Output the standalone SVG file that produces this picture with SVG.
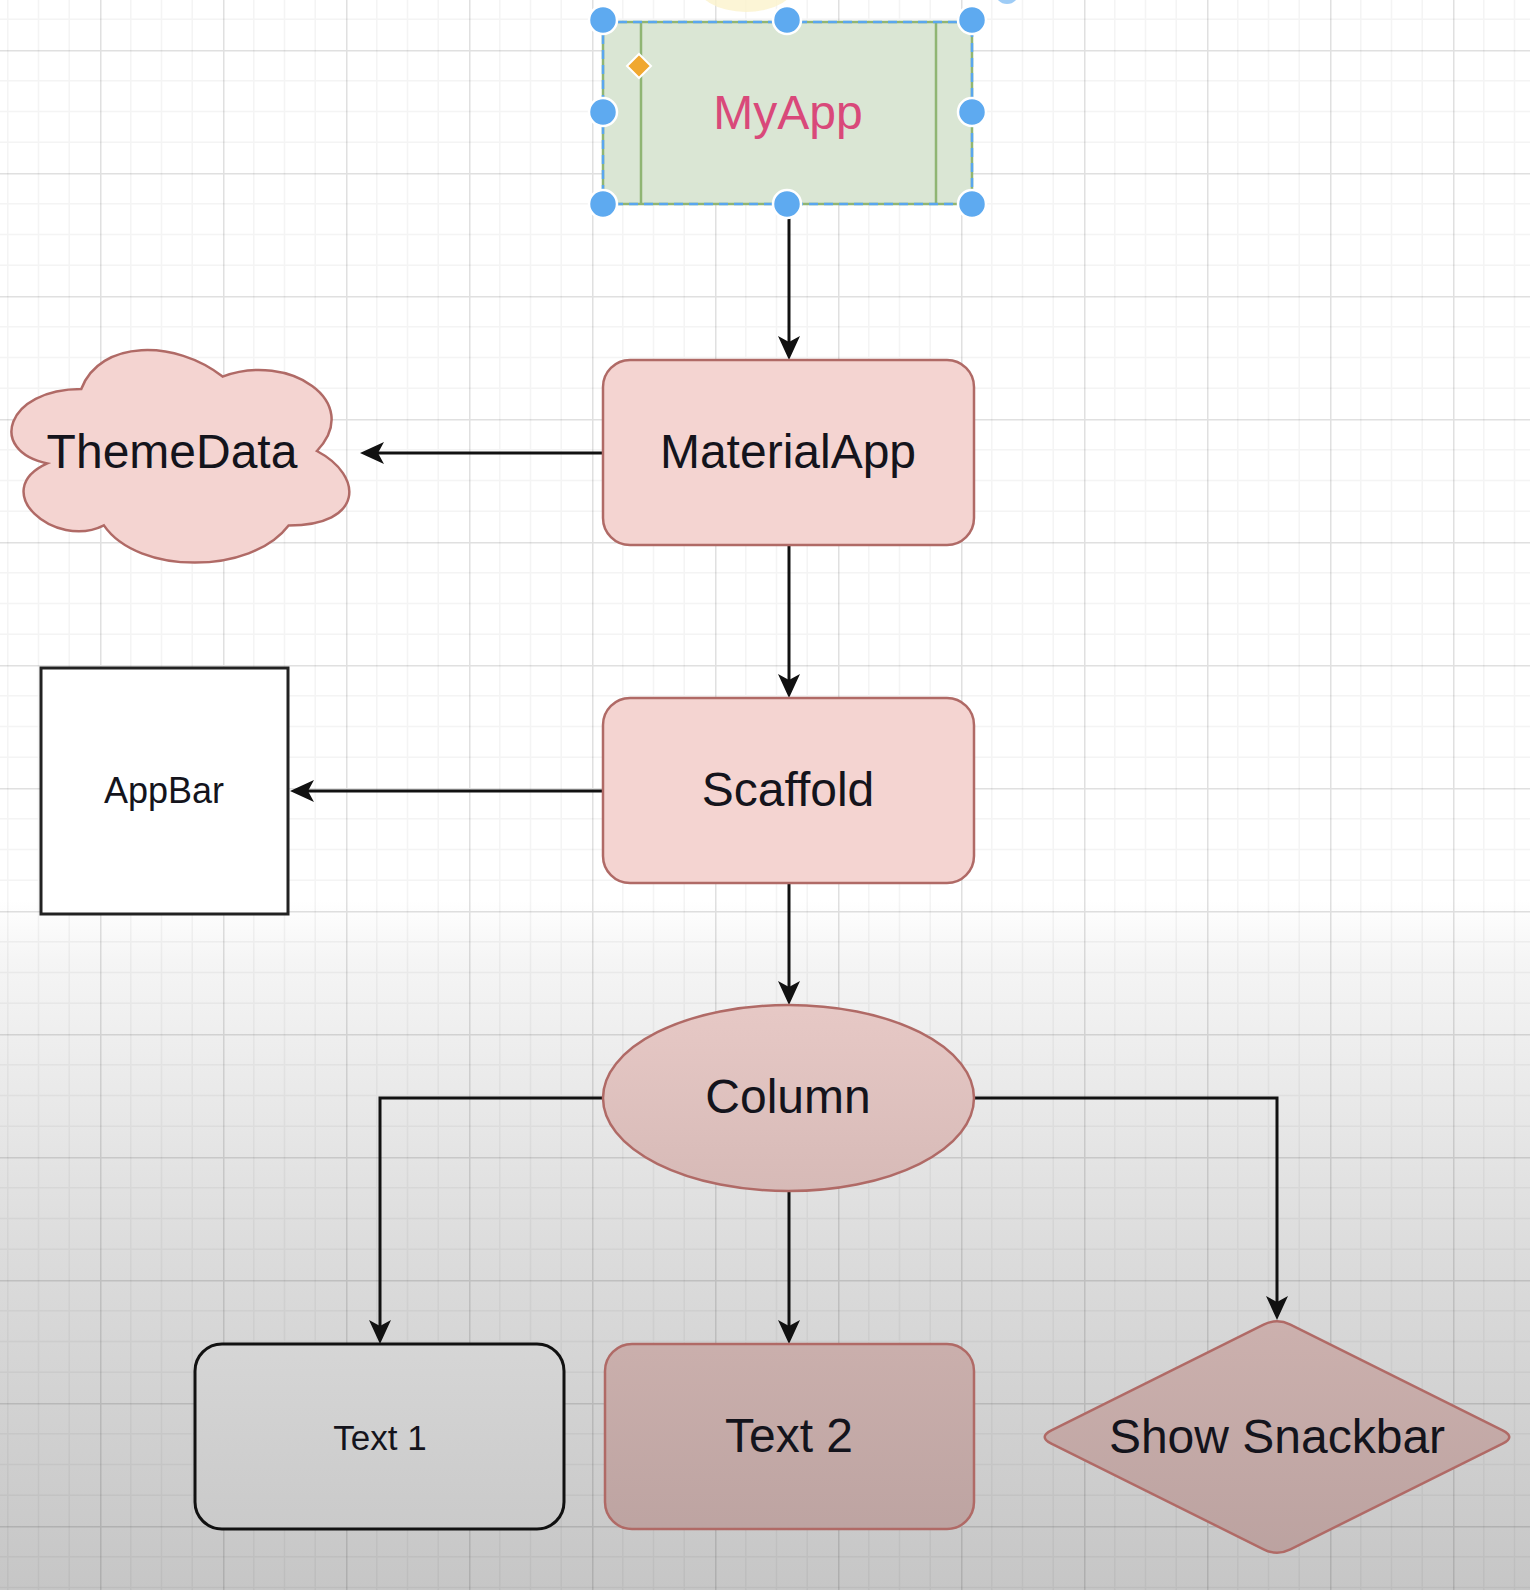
<svg xmlns="http://www.w3.org/2000/svg" width="1530" height="1590" viewBox="0 0 1530 1590">
<style>
.lbl{font-family:"Liberation Sans",Arial,Helvetica,sans-serif;fill:#14141c;text-anchor:middle}
.pink{fill:url(#pinkG);stroke:#b06a66;stroke-width:2.5}
.conn{fill:none;stroke:#111;stroke-width:3;marker-end:url(#arr)}
.handle{fill:#5eaaf0;stroke:#ffffff;stroke-width:2.5}
</style>
<defs>
<linearGradient id="bg" gradientUnits="userSpaceOnUse" x1="0" y1="0" x2="0" y2="1590">
<stop offset="0.566" stop-color="#ffffff"/>
<stop offset="0.604" stop-color="#f5f5f5"/>
<stop offset="0.654" stop-color="#eeeeee"/>
<stop offset="0.786" stop-color="#dcdcdc"/>
<stop offset="1" stop-color="#c6c6c6"/>
</linearGradient>
<linearGradient id="pinkG" gradientUnits="userSpaceOnUse" x1="0" y1="0" x2="0" y2="1590">
<stop offset="0.566" stop-color="#f4d4d1"/>
<stop offset="0.604" stop-color="#eaccc9"/>
<stop offset="0.654" stop-color="#e4c6c3"/>
<stop offset="0.786" stop-color="#d1b5b2"/>
<stop offset="1" stop-color="#b9a09e"/>
</linearGradient>
<pattern id="grid" patternUnits="userSpaceOnUse" x="100" y="50" width="123" height="123">
<path d="M30.75 0V123M61.5 0V123M92.25 0V123M0 30.75H123M0 61.5H123M0 92.25H123" stroke="#000" stroke-opacity="0.045" stroke-width="1.5" fill="none"/>
<path d="M0.75 0V123M0 0.75H123" stroke="#000" stroke-opacity="0.12" stroke-width="1.5" fill="none"/>
</pattern>
<marker id="arr" markerUnits="userSpaceOnUse" markerWidth="28" markerHeight="26" viewBox="-14 -13 28 26" refX="0" refY="0" orient="auto">
<path d="M12,0 L-12,-11 L-6,0 L-12,11 Z" fill="#111"/>
</marker>
</defs>
<rect x="0" y="0" width="1530" height="1590" fill="url(#bg)"/>
<rect x="0" y="0" width="1530" height="1590" fill="url(#grid)"/>
<ellipse cx="746" cy="-20" rx="52" ry="32" fill="#fbf2cc" opacity="0.8"/>
<circle cx="1007" cy="-8" r="12" fill="#5eaaf0" opacity="0.6"/>

<g id="connectors">
<path class="conn" d="M789,204 V348"/>
<path class="conn" d="M603,453 H372"/>
<path class="conn" d="M789,545 V686"/>
<path class="conn" d="M603,791 H302"/>
<path class="conn" d="M789,883 V993"/>
<path class="conn" d="M603,1098 H380 V1332"/>
<path class="conn" d="M789,1191 V1332"/>
<path class="conn" d="M974,1098 H1277 V1308"/>
</g>

<g id="node-myapp">
<rect x="603" y="22" width="369" height="182" fill="#dae6d4" stroke="#8fb573" stroke-width="2.5"/>
<path d="M641,22 V204 M936,22 V204" stroke="#8fb573" stroke-width="2.5" fill="none"/>
<rect x="603" y="22" width="369" height="182" fill="none" stroke="#5aa6ee" stroke-width="2.5" stroke-dasharray="9 6"/>
<text class="lbl" x="788" y="129" font-size="48" style="fill:#d9497a">MyApp</text>
<path d="M639,54 L651,66 L639,78 L627,66 Z" fill="#f0a830" stroke="#ffffff" stroke-width="2"/>
<circle class="handle" cx="603" cy="20" r="14"/>
<circle class="handle" cx="787" cy="20" r="14"/>
<circle class="handle" cx="972" cy="20" r="14"/>
<circle class="handle" cx="603" cy="112" r="14"/>
<circle class="handle" cx="972" cy="112" r="14"/>
<circle class="handle" cx="603" cy="204" r="14"/>
<circle class="handle" cx="787" cy="204" r="14"/>
<circle class="handle" cx="972" cy="204" r="14"/>
</g>

<g id="node-themedata">
<path class="pink" d="M81.25,389 C5.85,389 -13,451 47.3,463.4 C-13,490.7 54.9,550.2 103.9,525.4 C137.8,575 250.9,575 288.6,525.4 C364,525.4 364,475.8 316.9,451 C364,401.4 288.6,351.8 222.6,376.6 C175.5,339.4 100.1,339.4 81.25,389 Z"/>
<text class="lbl" x="172" y="468" font-size="48">ThemeData</text>
</g>

<g id="node-materialapp">
<rect class="pink" x="603" y="360" width="371" height="185" rx="27"/>
<text class="lbl" x="788" y="468" font-size="48">MaterialApp</text>
</g>

<g id="node-scaffold">
<rect class="pink" x="603" y="698" width="371" height="185" rx="27"/>
<text class="lbl" x="788" y="806" font-size="48">Scaffold</text>
</g>

<g id="node-appbar">
<rect x="41" y="668" width="247" height="246" fill="#ffffff" stroke="#222" stroke-width="3"/>
<text class="lbl" x="164" y="803" font-size="36">AppBar</text>
</g>

<g id="node-column">
<ellipse class="pink" cx="788.5" cy="1098" rx="185.5" ry="93"/>
<text class="lbl" x="788" y="1113" font-size="48">Column</text>
</g>

<g id="node-text1">
<rect x="195" y="1344" width="369" height="185" rx="27" fill="url(#bg)" stroke="#111" stroke-width="3"/>
<text class="lbl" x="380" y="1450" font-size="35">Text 1</text>
</g>

<g id="node-text2">
<rect class="pink" x="605" y="1344" width="369" height="185" rx="27"/>
<text class="lbl" x="789" y="1452" font-size="48">Text 2</text>
</g>

<g id="node-snackbar">
<path class="pink" d="M1263.6,1324.7 Q1277,1318 1290.4,1324.7 L1502.6,1430.3 Q1516,1437 1502.6,1443.7 L1290.4,1549.3 Q1277,1556 1263.6,1549.3 L1051.4,1443.7 Q1038,1437 1051.4,1430.3 Z"/>
<text class="lbl" x="1277" y="1453" font-size="48">Show Snackbar</text>
</g>
</svg>
